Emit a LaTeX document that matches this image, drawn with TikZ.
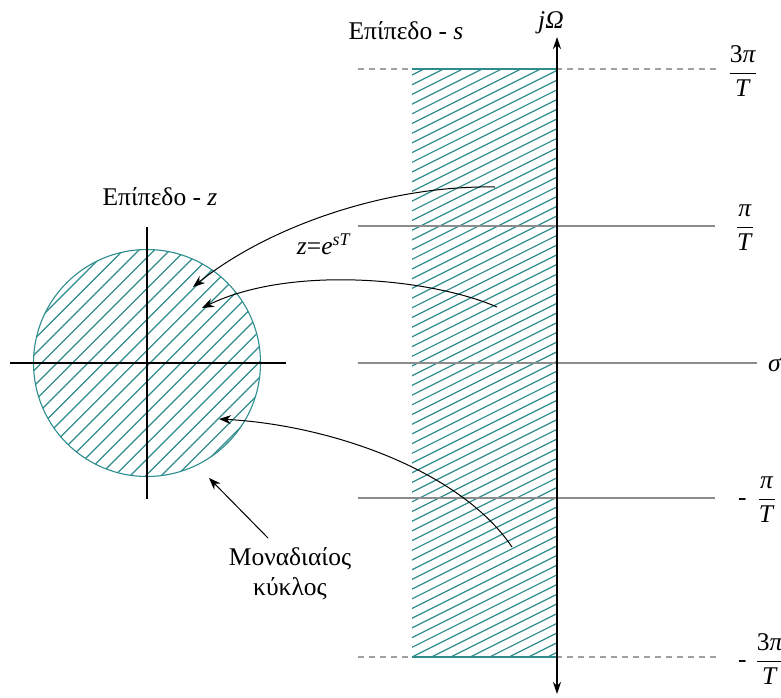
\documentclass[tikz,border=0pt]{standalone}
\usepackage{fontspec}
\setmainfont{Liberation Serif}
\usetikzlibrary{arrows.meta}
\definecolor{hatchc}{RGB}{46,140,140}
\definecolor{gline}{RGB}{140,140,140}
\definecolor{dline}{RGB}{160,160,160}
\begin{document}
\begin{tikzpicture}[x=1pt,y=-1pt,
  lbl/.style={font=\fontsize{25.5}{30}\selectfont, inner sep=0pt},
  axisline/.style={black, line width=1.2pt},
  gridline/.style={gline, line width=1.1pt},
  dgridline/.style={dline, line width=1.1pt, dash pattern=on 6pt off 5pt},
  hl/.style={hatchc, line width=1.2pt},
  arr/.style={-{Stealth[length=12pt,width=9pt]}, line width=1pt, black},
  tip/.style={{Stealth[length=12pt,width=8pt]}-{Stealth[length=12pt,width=8pt]}}]
\useasboundingbox (0,0) rectangle (781,697);

% ---- s-plane hatched strip
\begin{scope}
  \clip (412,69) rectangle (557,657);
  \foreach \k in {-9,...,63}{
    \pgfmathsetmacro\cc{863-9.7*\k}
    \draw[hl] (400,\cc-200) -- (570,\cc-285);
  }
\end{scope}

% ---- z-plane hatched disc
\begin{scope}
  \clip (147,363) circle [radius=113.5pt];
  \foreach \k in {-6,...,18}{
    \pgfmathsetmacro\cc{420+15.5*\k}
    \draw[hl] (\cc-240,240) -- (\cc-490,490);
  }
\end{scope}
\draw[hatchc, line width=1.1pt] (147,363) circle [radius=113.5pt];

% ---- z-plane axes
\coordinate (zxl) at (10,363);  \coordinate (zxr) at (286,363);
\coordinate (zyt) at (147,227); \coordinate (zyb) at (147,499);
\draw[axisline] (zxl) -- (zxr);
\draw[axisline] (zyt) -- (zyb);

% ---- s-plane horizontal lines
\coordinate (l3a) at (358,69);  \coordinate (l3b) at (717,69);
\coordinate (l1a) at (358,226); \coordinate (l1b) at (715,226);
\coordinate (l0a) at (358,363); \coordinate (l0b) at (757,363);
\coordinate (m1a) at (358,498); \coordinate (m1b) at (715,498);
\coordinate (m3a) at (358,657); \coordinate (m3b) at (717,657);
\draw[dgridline] (l3a) -- (l3b);
\draw[gridline] (l1a) -- (l1b);
\draw[gridline] (l0a) -- (l0b);
\draw[gridline] (m1a) -- (m1b);
\draw[dgridline] (m3a) -- (m3b);
\draw[hl] (412,69) -- (557,69);
\draw[hl] (412,657) -- (557,657);

% ---- s-plane vertical axis
\coordinate (sat) at (557,37); \coordinate (sab) at (557,694);
\draw[axisline, line width=1.3pt, tip] (sab) -- (sat);

% ---- labels
\node[lbl] (zt) at (160,197) {Επίπεδο - \textit{z}};
\node[lbl] (st) at (406,31) {Επίπεδο - \textit{s}};
\node[lbl] (jw) at (551,23) {\textit{jΩ}};
\node[lbl, anchor=west] (sig) at (768,365) {\textit{σ}};
\node[lbl] (map) at (324,244) {\textit{z}=\textit{e}\textsuperscript{\textit{sT}}};
\node[lbl, align=center] (unit) at (290,574) {Μοναδιαίος\\κύκλος};
\node[lbl] (f3p) at (743,71) {$\displaystyle\frac{\hbox{3\textit{π}}}{\hbox{\textit{T}}}$};
\node[lbl] (f1p) at (745,228) {$\displaystyle\frac{\hbox{\textit{π}}}{\hbox{\textit{T}}}$};
\node[lbl, anchor=west] (f1m) at (738,500) {-\hspace{11pt}$\displaystyle\frac{\hbox{\textit{π}}}{\hbox{\textit{T}}}$};
\node[lbl, anchor=west] (f3m) at (738,659) {-\hspace{9pt}$\displaystyle\frac{\hbox{3\textit{π}}}{\hbox{\textit{T}}}$};

% ---- mapping arrows
\coordinate (a1s) at (495,187); \coordinate (a1e) at (193,287);
\coordinate (a2s) at (497,307); \coordinate (a2e) at (202,308);
\coordinate (a3s) at (512,547); \coordinate (a3e) at (219,419);
\coordinate (a4s) at (268,538); \coordinate (a4e) at (209,478);
\draw[arr] (a1s) .. controls (390,185) and (270,225) .. (a1e);
\draw[arr] (a2s) .. controls (430,278) and (290,265) .. (a2e);
\draw[arr] (a3s) .. controls (460,470) and (330,425) .. (a3e);
\draw[arr] (a4s) -- (a4e);
\end{tikzpicture}
\end{document}
